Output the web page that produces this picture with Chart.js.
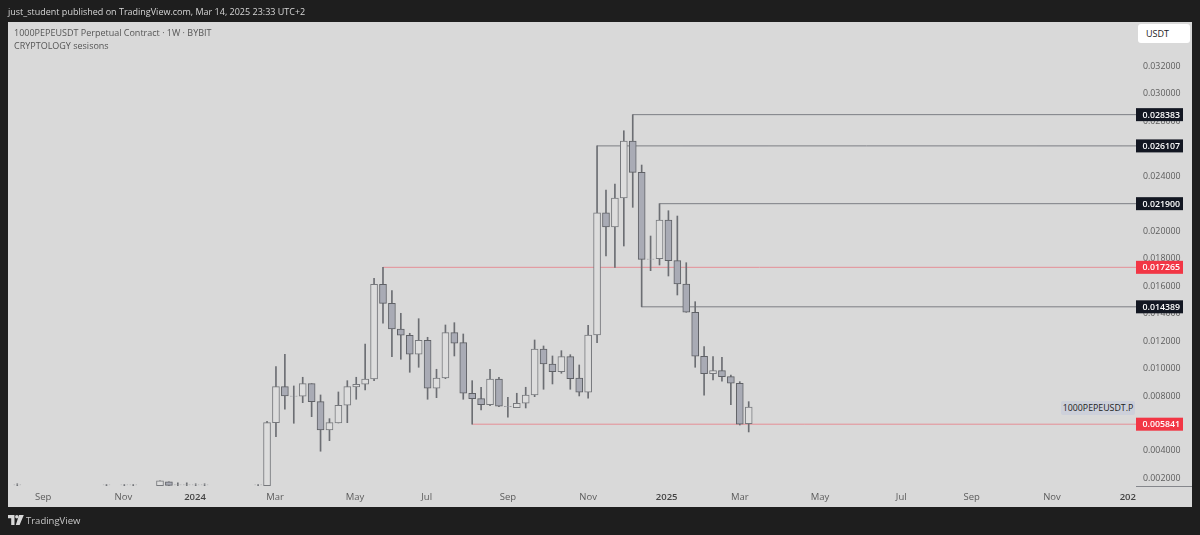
<!DOCTYPE html>
<html>
<head>
<meta charset="utf-8">
<title>1000PEPEUSDT</title>
<script src="https://cdn.jsdelivr.net/npm/chart.js@4/dist/chart.umd.min.js"></script>
<style>
    html, body { margin: 0; padding: 0; background: #1e1e1e; overflow: hidden; }
    body { width: 1200px; height: 535px; position: relative; font-family: "Open Sans", sans-serif; }
    #panel { position: absolute; left: 8px; top: 22px; width: 1184px; height: 485px; background: #d9d9d9; }
    canvas { position: absolute; left: 0; top: 0; }
    .txt { position: absolute; white-space: nowrap; }
    #published { left: 8px; top: 4px; color: #d6d6d6; font-size: 9px; line-height: 16px; }
    #symbol { left: 14px; top: 26px; color: #555; font-size: 9px; line-height: 13px; }
    #study { left: 14px; top: 39px; color: #555; font-size: 9px; line-height: 13px; }
    #currency { left: 1138px; top: 24px; width: 44px; height: 19px; padding-left: 8px; background: #fff; border-radius: 3px; color: #222; font-size: 9px; line-height: 19px; }
    #ticker { left: 1061px; top: 401px; width: 74px; height: 14px; text-align: center; background: #cdd0da; border-radius: 2px; color: #222; font-size: 8.8px; line-height: 14px; }
    #logo { position: absolute; left: 8px; top: 515px; }
    #brand { left: 26px; top: 512px; color: #c8c8c8; font-size: 9.5px; line-height: 18px; }
</style>
</head>
<body>
<div id="panel"></div>
<canvas id="chart" width="1200" height="535"></canvas>
<div class="txt" id="published">just_student published on TradingView.com, Mar 14, 2025 23:33 UTC+2</div>
<div class="txt" id="symbol">1000PEPEUSDT Perpetual Contract · 1W · BYBIT</div>
<div class="txt" id="study">CRYPTOLOGY sesisons</div>
<div class="txt" id="currency">USDT</div>
<div class="txt" id="ticker">1000PEPEUSDT.P</div>
<svg id="logo" width="16" height="11" viewBox="0 0 16 11"><path d="M0 0h6.5v10H3.2V3.2H0z M11 0h4.8L11.6 10H7.8z" fill="#d8d8d8"/><circle cx="8.8" cy="1.7" r="1.7" fill="#d8d8d8"/></svg>
<div class="txt" id="brand">TradingView</div>
<script>
// week offset from the candle of Feb 26 2024
const weeks = [-28, -18, -16, -15, -12, -11, -10, -9, -8, -7, -1,
    0, 1, 2, 3, 4, 5, 6, 7, 8, 9,
    10, 11, 12, 13, 14, 15, 16, 17, 18, 19,
    20, 21, 22, 23, 24, 25, 26, 27, 28, 29,
    30, 31, 32, 33, 34, 35, 36, 37, 38, 39,
    40, 41, 42, 43, 44, 45, 46, 47, 48, 49,
    50, 51, 52, 53, 54];
const opens = [.00142, .00142, .00142, .00142, .00136, .00164, .00141, .00141, .00142, .00142, .00142,
    .001367, .005953, .008574, .007897, .007875, .008792, .007482, .005422, .005931, .00722,
    .008552, .008749, .009134, .016029, .014645, .012774, .012316, .010933, .011952, .008457,
    .009207, .012505, .011777, .008093, .0077, .007263, .009134, .007118, .007045, .007365,
    .00797, .011318, .010226, .009666, .010758, .009207, .008166, .012338, .021241, .0202,
    .022311, .026461, .024182, .01787, .017892, .02071, .017747, .01605, .01399, .010787,
    .00952, .009739, .009302, .008821, .00588];
const closes = [.00143, .00143, .00143, .00143, .00171, .00138, .00142, .00142, .00143, .00143, .00143,
    .005953, .008574, .007897, .00789, .008792, .007482, .005422, .005953, .00722, .008574,
    .008749, .009134, .016029, .014645, .012774, .012316, .010933, .011952, .008457, .009207,
    .012505, .011733, .008093, .0077, .007263, .009134, .007147, .00711, .007365, .00797,
    .011318, .010226, .009666, .010758, .009156, .008166, .012338, .021241, .0202, .022311,
    .026461, .024182, .017849, .01786, .02071, .017747, .01605, .01399, .010787, .00952,
    .009739, .009302, .008821, .005841, .007096];
const highs = [.0015, .00146, .00146, .00146, .00171, .00164, .00157, .00157, .0015, .0015, .00146,
    .006055, .01003, .010933, .008625, .009258, .008792, .00797, .006244, .008188, .00901,
    .009258, .011682, .016465, .017265, .015563, .013917, .012461, .013524, .01217, .009841,
    .013066, .013233, .01241, .00901, .00853, .009841, .009258, .007802, .008093, .00853,
    .011974, .011537, .010809, .011195, .010903, .010154, .013044, .026107, .022894, .02333,
    .027211, .028383, .024714, .019545, .0219, .021387, .021, .017601, .014762, .011486,
    .010758, .010714, .009426, .008938, .007482];
const lows = [.00135, .00135, .00135, .00135, .00136, .00138, .00136, .00136, .00135, .00135, .00135,
    .001367, .004934, .006929, .005909, .007409, .00639, .003871, .004643, .005931, .005953,
    .007657, .008334, .00901, .013189, .010758, .010569, .009622, .009986, .007657, .007773,
    .009156, .010809, .007657, .005841, .006878, .00719, .007118, .006346, .007045, .007023,
    .007846, .008385, .00877, .009549, .008385, .007897, .007729, .011777, .018089, .017265,
    .018817, .021634, .014389, .017019, .017434, .016633, .01525, .01399, .009986, .007948,
    .009062, .008967, .007263, .00578, .005276];

const levels = [.028383, .026107, .021900, .017265, .014389, .005841];
const levelStarts = [41, 37, 44, 13, 42, 23];
const levelLabels = ['0.028383', '0.026107', '0.021900', '0.017265', '0.014389', '0.005841'];
const levelColors = ['#131722', '#131722', '#131722', '#f23645', '#131722', '#f23645'];

const yTicks = [.002, .004, .006, .008, .010, .012, .014, .016, .018, .020, .022, .024, .026, .028, .030, .032];
const xTickWeeks = [-25.1, -16.1, -8.07, 0.9, 9.87, 17.9, 27, 36, 44.8, 53, 62, 71.1, 79, 88, 96.5];
const xTickLabels = ['Sep', 'Nov', '2024', 'Mar', 'May', 'Jul', 'Sep', 'Nov', '2025', 'Mar', 'May', 'Jul', 'Sep', 'Nov', '202'];

const xMin = -29.04;
const xMax = 97.42;

const isUp = i => closes[i] >= opens[i];
const isYearTick = ctx => (xTickLabels[ctx.index] || '').startsWith('20');

const lineSets = levels.map((level, i) => ({
    type: 'line',
    data: [{ x: levelStarts[i], y: level }, { x: xMax, y: level }],
    borderColor: levelColors[i] === '#f23645' ? '#e58f96' : '#7c7e84',
    borderWidth: 1,
    pointRadius: 0,
    order: 3
}));

const priceTags = {
    id: 'priceTags',
    afterDraw(chart) {
        const ctx = chart.ctx;
        const y = chart.scales.y;
        ctx.save();
        ctx.font = '600 8.8px "Open Sans"';
        ctx.textBaseline = 'middle';
        levels.forEach((level, i) => {
            const py = y.getPixelForValue(level);
            ctx.fillStyle = levelColors[i];
            ctx.fillRect(1136, py - 6.5, 47, 13);
            ctx.fillStyle = '#fff';
            ctx.fillText(levelLabels[i], 1142.5, py + 0.5);
        });
        // little axis stub in the price scale corner
        ctx.fillStyle = '#85878c';
        ctx.fillRect(1136, chart.chartArea.bottom, 56, 1);
        ctx.restore();
    }
};

new Chart(document.getElementById('chart'), {
    type: 'bar',
    data: {
        datasets: [
            {
                data: weeks.map((w, i) => ({ x: w, y: [lows[i], highs[i]] })),
                backgroundColor: '#6c6e73',
                barThickness: 1,
                grouped: false,
                order: 2
            },
            {
                data: weeks.map((w, i) => ({ x: w, y: [opens[i], closes[i]] })),
                backgroundColor: weeks.map((w, i) => isUp(i) ? '#dddddd' : '#a9abb5'),
                borderColor: weeks.map((w, i) => isUp(i) ? '#77797d' : '#5f6166'),
                borderWidth: 1,
                borderSkipped: false,
                barThickness: 7,
                grouped: false,
                order: 1
            },
            ...lineSets
        ]
    },
    options: {
        responsive: false,
        animation: false,
        layout: { padding: { left: 8, top: 22, right: 8, bottom: 28 } },
        plugins: { legend: { display: false }, tooltip: { enabled: false } },
        scales: {
            x: {
                type: 'linear',
                offset: false,
                min: xMin,
                max: xMax,
                grid: { display: false, drawTicks: false, offset: false },
                border: { display: false },
                afterBuildTicks: axis => { axis.ticks = xTickWeeks.map(value => ({ value })); },
                afterFit: axis => { axis.height = 21; },
                ticks: {
                    autoSkip: false,
                    maxRotation: 0,
                    padding: 6,
                    color: ctx => isYearTick(ctx) ? '#444' : '#5c5c5c',
                    font: ctx => ({
                        family: 'Open Sans',
                        size: 9.5,
                        weight: isYearTick(ctx) ? '600' : '400'
                    }),
                    callback: (value, index) => xTickLabels[index]
                }
            },
            y: {
                position: 'right',
                min: 0.00134,
                max: 0.03513,
                grid: { display: false, drawTicks: false },
                border: { display: false },
                afterBuildTicks: axis => { axis.ticks = yTicks.map(value => ({ value })); },
                afterFit: axis => { axis.width = 56; },
                ticks: {
                    autoSkip: false,
                    padding: 7,
                    labelOffset: 1.5,
                    color: '#5c5c5c',
                    font: { family: 'Open Sans', size: 8.8 },
                    callback: value => value.toFixed(6)
                }
            }
        }
    },
    plugins: [priceTags]
});
</script>
</body>
</html>
